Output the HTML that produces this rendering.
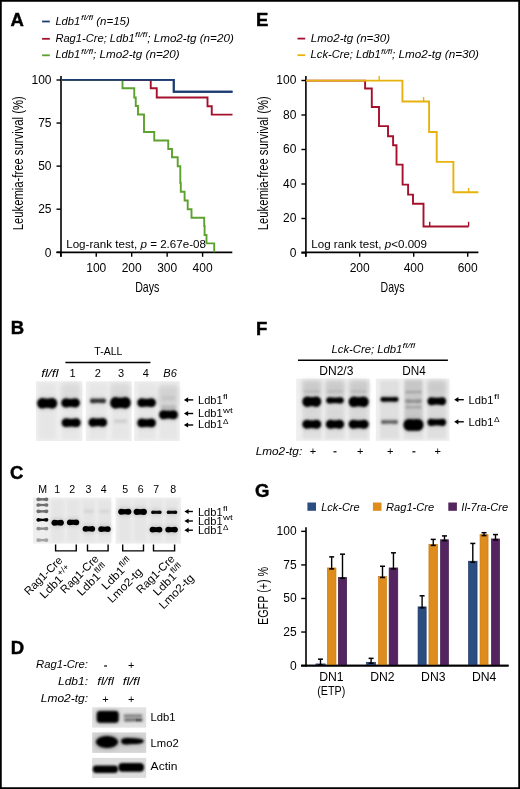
<!DOCTYPE html>
<html><head><meta charset="utf-8"><style>
html,body{margin:0;padding:0;background:#fff;}
body{width:520px;height:789px;overflow:hidden;}
svg{display:block;font-family:"Liberation Sans",sans-serif;will-change:transform;}
text{white-space:pre;}
</style></head><body>
<svg width="520" height="789" viewBox="0 0 520 789" xml:space="preserve">
<defs>
<filter id="b1" x="-60%" y="-120%" width="220%" height="340%"><feGaussianBlur stdDeviation="0.85"/></filter>
<filter id="b2" x="-60%" y="-120%" width="220%" height="340%"><feGaussianBlur stdDeviation="1.4"/></filter>
<filter id="b3" x="-60%" y="-120%" width="220%" height="340%"><feGaussianBlur stdDeviation="2.5"/></filter>
<filter id="b05" x="-60%" y="-120%" width="220%" height="340%"><feGaussianBlur stdDeviation="0.45"/></filter>
</defs>
<rect x="0" y="0" width="520" height="789" fill="#fff"/>
<text x="10.40" y="26.10" font-size="18.50" style="font-weight:bold;" stroke="#000" stroke-width="0.45">A</text>
<line x1="42.10" y1="21.50" x2="49.80" y2="21.50" stroke="#1c3b73" stroke-width="1.80"/>
<line x1="42.10" y1="38.80" x2="49.80" y2="38.80" stroke="#a5102c" stroke-width="1.80"/>
<line x1="42.10" y1="55.30" x2="49.80" y2="55.30" stroke="#5da12f" stroke-width="1.80"/>
<text x="55.40" y="24.50" font-size="11.50" textLength="24.90" lengthAdjust="spacingAndGlyphs" style="font-style:italic;">Ldb1</text>
<text x="81.00" y="20.20" font-size="7.60" textLength="12.20" lengthAdjust="spacingAndGlyphs" style="font-style:italic;">fl/fl</text>
<text x="93.00" y="24.50" font-size="11.50" textLength="36.80" lengthAdjust="spacingAndGlyphs" style="font-style:italic;"> (n=15)</text>
<text x="55.40" y="41.50" font-size="11.50" textLength="79.20" lengthAdjust="spacingAndGlyphs" style="font-style:italic;">Rag1-Cre; Ldb1</text>
<text x="135.10" y="37.20" font-size="7.60" textLength="12.30" lengthAdjust="spacingAndGlyphs" style="font-style:italic;">fl/fl</text>
<text x="147.20" y="41.50" font-size="11.50" textLength="86.60" lengthAdjust="spacingAndGlyphs" style="font-style:italic;">; Lmo2-tg (n=20)</text>
<text x="55.40" y="58.30" font-size="11.50" textLength="24.90" lengthAdjust="spacingAndGlyphs" style="font-style:italic;">Ldb1</text>
<text x="81.00" y="54.00" font-size="7.60" textLength="12.20" lengthAdjust="spacingAndGlyphs" style="font-style:italic;">fl/fl</text>
<text x="93.00" y="58.30" font-size="11.50" textLength="86.60" lengthAdjust="spacingAndGlyphs" style="font-style:italic;">; Lmo2-tg (n=20)</text>
<line x1="61.00" y1="76.00" x2="61.00" y2="256.80" stroke="#000" stroke-width="1.60"/>
<line x1="56.50" y1="252.40" x2="232.30" y2="252.40" stroke="#000" stroke-width="1.60"/>
<line x1="56.50" y1="80.00" x2="61.00" y2="80.00" stroke="#000" stroke-width="1.40"/>
<line x1="56.50" y1="123.06" x2="61.00" y2="123.06" stroke="#000" stroke-width="1.40"/>
<line x1="56.50" y1="166.12" x2="61.00" y2="166.12" stroke="#000" stroke-width="1.40"/>
<line x1="56.50" y1="209.19" x2="61.00" y2="209.19" stroke="#000" stroke-width="1.40"/>
<line x1="56.50" y1="252.25" x2="61.00" y2="252.25" stroke="#000" stroke-width="1.40"/>
<line x1="60.80" y1="252.40" x2="60.80" y2="256.80" stroke="#000" stroke-width="1.40"/>
<line x1="96.25" y1="252.40" x2="96.25" y2="256.80" stroke="#000" stroke-width="1.40"/>
<line x1="131.70" y1="252.40" x2="131.70" y2="256.80" stroke="#000" stroke-width="1.40"/>
<line x1="167.15" y1="252.40" x2="167.15" y2="256.80" stroke="#000" stroke-width="1.40"/>
<line x1="202.60" y1="252.40" x2="202.60" y2="256.80" stroke="#000" stroke-width="1.40"/>
<text x="51.50" y="84.30" font-size="12.00" text-anchor="end" style="">100</text>
<text x="51.50" y="127.36" font-size="12.00" text-anchor="end" style="">75</text>
<text x="51.50" y="170.43" font-size="12.00" text-anchor="end" style="">50</text>
<text x="51.50" y="213.49" font-size="12.00" text-anchor="end" style="">25</text>
<text x="51.50" y="256.55" font-size="12.00" text-anchor="end" style="">0</text>
<text x="96.25" y="272.10" font-size="12.00" text-anchor="middle" style="">100</text>
<text x="131.70" y="272.10" font-size="12.00" text-anchor="middle" style="">200</text>
<text x="167.15" y="272.10" font-size="12.00" text-anchor="middle" style="">300</text>
<text x="202.60" y="272.10" font-size="12.00" text-anchor="middle" style="">400</text>
<text x="135.20" y="291.90" font-size="14.40" textLength="24.20" lengthAdjust="spacingAndGlyphs" style="">Days</text>
<g transform="translate(23.2,230.3) rotate(-90)">
<text x="0.00" y="0.00" font-size="14.60" textLength="134.00" lengthAdjust="spacingAndGlyphs" style="">Leukemia-free survival (%)</text>
</g>
<text x="66.20" y="247.80" font-size="11.80" textLength="74.25" lengthAdjust="spacingAndGlyphs" style="">Log-rank test, </text>
<text x="140.45" y="247.80" font-size="11.80" textLength="6.46" lengthAdjust="spacingAndGlyphs" style="font-style:italic;">p</text>
<text x="146.91" y="247.80" font-size="11.80" textLength="59.09" lengthAdjust="spacingAndGlyphs" style=""> = 2.67e-08</text>
<path d="M61.00,79.90 H173.75 V91.75 H232.50 V91.75" stroke="#1c3b73" stroke-width="1.90" fill="none"/>
<path d="M61.00,79.90 H150.75 V88.20 H156.75 V97.50 H207.50 V106.20 H211.75 V114.60 H232.50 V114.60" stroke="#a5102c" stroke-width="1.90" fill="none"/>
<path d="M61.00,79.90 H122.50 V88.30 H134.25 V97.50 H135.75 V106.00 H138.00 V114.50 H144.00 V132.00 H154.25 V140.50 H168.25 V149.00 H172.00 V157.30 H177.70 V166.20 H180.30 V183.00 H180.80 V191.80 H184.60 V200.50 H187.70 V209.20 H191.50 V217.70 H204.20 V226.00 H204.60 V235.00 H206.50 V243.40 H214.20 V252.30" stroke="#5da12f" stroke-width="1.90" fill="none"/>
<path d="M61,79.9 H173.75 V91.75 H232.5" stroke="#1c3b73" stroke-width="1.90" fill="none"/>
<text x="255.90" y="26.10" font-size="18.50" style="font-weight:bold;" stroke="#000" stroke-width="0.45">E</text>
<line x1="297.50" y1="38.60" x2="305.20" y2="38.60" stroke="#a5102c" stroke-width="1.80"/>
<line x1="297.50" y1="55.20" x2="305.20" y2="55.20" stroke="#e8b20e" stroke-width="1.80"/>
<text x="310.75" y="41.50" font-size="11.50" textLength="79.25" lengthAdjust="spacingAndGlyphs" style="font-style:italic;">Lmo2-tg (n=30)</text>
<text x="310.60" y="58.30" font-size="11.50" textLength="70.20" lengthAdjust="spacingAndGlyphs" style="font-style:italic;">Lck-Cre; Ldb1</text>
<text x="381.00" y="54.00" font-size="7.60" textLength="11.20" lengthAdjust="spacingAndGlyphs" style="font-style:italic;">fl/fl</text>
<text x="392.00" y="58.30" font-size="11.50" textLength="87.00" lengthAdjust="spacingAndGlyphs" style="font-style:italic;">; Lmo2-tg (n=30)</text>
<line x1="305.90" y1="76.00" x2="305.90" y2="256.80" stroke="#000" stroke-width="1.60"/>
<line x1="301.40" y1="252.40" x2="478.40" y2="252.40" stroke="#000" stroke-width="1.60"/>
<line x1="301.40" y1="80.50" x2="305.90" y2="80.50" stroke="#000" stroke-width="1.40"/>
<line x1="301.40" y1="115.00" x2="305.90" y2="115.00" stroke="#000" stroke-width="1.40"/>
<line x1="301.40" y1="149.50" x2="305.90" y2="149.50" stroke="#000" stroke-width="1.40"/>
<line x1="301.40" y1="184.00" x2="305.90" y2="184.00" stroke="#000" stroke-width="1.40"/>
<line x1="301.40" y1="218.50" x2="305.90" y2="218.50" stroke="#000" stroke-width="1.40"/>
<line x1="301.40" y1="253.00" x2="305.90" y2="253.00" stroke="#000" stroke-width="1.40"/>
<line x1="305.70" y1="252.40" x2="305.70" y2="256.80" stroke="#000" stroke-width="1.40"/>
<line x1="359.70" y1="252.40" x2="359.70" y2="256.80" stroke="#000" stroke-width="1.40"/>
<line x1="413.70" y1="252.40" x2="413.70" y2="256.80" stroke="#000" stroke-width="1.40"/>
<line x1="467.70" y1="252.40" x2="467.70" y2="256.80" stroke="#000" stroke-width="1.40"/>
<text x="296.40" y="84.00" font-size="12.00" text-anchor="end" style="">100</text>
<text x="296.40" y="118.50" font-size="12.00" text-anchor="end" style="">80</text>
<text x="296.40" y="153.00" font-size="12.00" text-anchor="end" style="">60</text>
<text x="296.40" y="187.50" font-size="12.00" text-anchor="end" style="">40</text>
<text x="296.40" y="222.00" font-size="12.00" text-anchor="end" style="">20</text>
<text x="296.40" y="256.50" font-size="12.00" text-anchor="end" style="">0</text>
<text x="359.70" y="272.10" font-size="12.00" text-anchor="middle" style="">200</text>
<text x="413.70" y="272.10" font-size="12.00" text-anchor="middle" style="">400</text>
<text x="467.70" y="272.10" font-size="12.00" text-anchor="middle" style="">600</text>
<text x="380.60" y="291.90" font-size="14.40" textLength="24.00" lengthAdjust="spacingAndGlyphs" style="">Days</text>
<g transform="translate(268.4,230.3) rotate(-90)">
<text x="0.00" y="0.00" font-size="14.60" textLength="134.00" lengthAdjust="spacingAndGlyphs" style="">Leukemia-free survival (%)</text>
</g>
<text x="311.25" y="248.00" font-size="11.80" textLength="73.50" lengthAdjust="spacingAndGlyphs" style="">Log rank test, </text>
<text x="384.75" y="248.00" font-size="11.80" textLength="6.45" lengthAdjust="spacingAndGlyphs" style="font-style:italic;">p</text>
<text x="391.20" y="248.00" font-size="11.80" textLength="35.80" lengthAdjust="spacingAndGlyphs" style="">&lt;0.009</text>
<path d="M306.00,80.65 H365.10 V88.50 H371.80 V107.00 H379.00 V126.10 H388.00 V136.20 H393.10 V145.30 H396.50 V164.60 H402.60 V184.60 H408.10 V194.60 H413.00 V203.70 H423.50 V226.50 H468.60 V226.50" stroke="#a5102c" stroke-width="1.90" fill="none"/>
<line x1="429.70" y1="221.80" x2="429.70" y2="226.50" stroke="#a5102c" stroke-width="1.40"/>
<line x1="468.60" y1="221.80" x2="468.60" y2="226.50" stroke="#a5102c" stroke-width="1.40"/>
<path d="M306.00,80.65 H402.40 V101.50 H429.10 V132.00 H436.70 V161.90 H453.40 V192.20 H478.40 V192.20" stroke="#e8b20e" stroke-width="1.90" fill="none"/>
<line x1="379.20" y1="76.00" x2="379.20" y2="80.65" stroke="#e8b20e" stroke-width="1.40"/>
<line x1="423.60" y1="97.00" x2="423.60" y2="101.50" stroke="#e8b20e" stroke-width="1.40"/>
<line x1="468.60" y1="188.00" x2="468.60" y2="192.20" stroke="#e8b20e" stroke-width="1.40"/>
<rect x="0.88" y="0.88" width="518.24" height="787.24" fill="none" stroke="#000" stroke-width="1.76"/>
<text x="10.80" y="333.60" font-size="18.50" style="font-weight:bold;" stroke="#000" stroke-width="0.45">B</text>
<text x="94.30" y="355.40" font-size="11.20" textLength="28.10" lengthAdjust="spacingAndGlyphs" style="">T-ALL</text>
<line x1="65.40" y1="362.50" x2="150.40" y2="362.50" stroke="#000" stroke-width="1.40"/>
<text x="41.30" y="376.60" font-size="11.50" textLength="17.30" lengthAdjust="spacingAndGlyphs" style="font-style:italic;">fl/fl</text>
<text x="72.50" y="376.50" font-size="11.00" text-anchor="middle" style="">1</text>
<text x="97.70" y="376.50" font-size="11.00" text-anchor="middle" style="">2</text>
<text x="121.00" y="376.50" font-size="11.00" text-anchor="middle" style="">3</text>
<text x="145.80" y="376.50" font-size="11.00" text-anchor="middle" style="">4</text>
<text x="163.30" y="376.60" font-size="11.50" textLength="13.50" lengthAdjust="spacingAndGlyphs" style="font-style:italic;">B6</text>
<rect x="36.00" y="381.30" width="46.40" height="59.70" fill="#eeeeee"/>
<rect x="85.80" y="381.30" width="45.90" height="59.70" fill="#eeeeee"/>
<rect x="134.20" y="381.30" width="45.60" height="59.70" fill="#eeeeee"/>
<rect x="38.70" y="383.30" width="17.00" height="55.70" fill="#e6e6e6" opacity="1.00" filter="url(#b2)"/>
<rect x="62.30" y="383.30" width="17.00" height="55.70" fill="#e6e6e6" opacity="1.00" filter="url(#b2)"/>
<rect x="89.40" y="383.30" width="17.00" height="55.70" fill="#e6e6e6" opacity="1.00" filter="url(#b2)"/>
<rect x="112.00" y="383.30" width="17.00" height="55.70" fill="#e6e6e6" opacity="1.00" filter="url(#b2)"/>
<rect x="138.10" y="383.30" width="17.00" height="55.70" fill="#e6e6e6" opacity="1.00" filter="url(#b2)"/>
<rect x="160.00" y="383.30" width="17.00" height="55.70" fill="#e6e6e6" opacity="1.00" filter="url(#b2)"/>
<rect x="61.00" y="384.00" width="19.00" height="14.00" fill="#d8d8d8" opacity="0.80" filter="url(#b3)"/>
<rect x="110.00" y="384.00" width="20.00" height="14.00" fill="#d6d6d6" opacity="0.80" filter="url(#b3)"/>
<rect x="158.00" y="386.00" width="20.00" height="20.00" fill="#d0d0d0" opacity="0.90" filter="url(#b3)"/>
<path d="M42.50,398.00 Q47.20,399.59 51.90,398.00 C58.95,398.00 58.95,408.60 51.90,408.60 Q47.20,407.01 42.50,408.60 C35.45,408.60 35.45,398.00 42.50,398.00 Z" fill="#000" opacity="0.22" filter="url(#b3)"/>
<path d="M42.50,398.00 Q47.20,399.59 51.90,398.00 C58.95,398.00 58.95,408.60 51.90,408.60 Q47.20,407.01 42.50,408.60 C35.45,408.60 35.45,398.00 42.50,398.00 Z" fill="#000" opacity="1.00" filter="url(#b1)"/>
<path d="M65.90,398.30 Q70.60,399.68 75.30,398.30 C81.42,398.30 81.42,407.50 75.30,407.50 Q70.60,406.12 65.90,407.50 C59.78,407.50 59.78,398.30 65.90,398.30 Z" fill="#000" opacity="0.22" filter="url(#b3)"/>
<path d="M65.90,398.30 Q70.60,399.68 75.30,398.30 C81.42,398.30 81.42,407.50 75.30,407.50 Q70.60,406.12 65.90,407.50 C59.78,407.50 59.78,398.30 65.90,398.30 Z" fill="#000" opacity="1.00" filter="url(#b1)"/>
<path d="M66.10,418.30 Q71.20,419.62 76.30,418.30 C82.15,418.30 82.15,427.10 76.30,427.10 Q71.20,425.78 66.10,427.10 C60.25,427.10 60.25,418.30 66.10,418.30 Z" fill="#000" opacity="0.22" filter="url(#b3)"/>
<path d="M66.10,418.30 Q71.20,419.62 76.30,418.30 C82.15,418.30 82.15,427.10 76.30,427.10 Q71.20,425.78 66.10,427.10 C60.25,427.10 60.25,418.30 66.10,418.30 Z" fill="#000" opacity="1.00" filter="url(#b1)"/>
<path d="M92.40,398.40 Q98.00,399.12 103.60,398.40 C106.79,398.40 106.79,403.20 103.60,403.20 Q98.00,402.48 92.40,403.20 C89.21,403.20 89.21,398.40 92.40,398.40 Z" fill="#1a1a1a" opacity="0.19" filter="url(#b3)"/>
<path d="M92.40,398.40 Q98.00,399.12 103.60,398.40 C106.79,398.40 106.79,403.20 103.60,403.20 Q98.00,402.48 92.40,403.20 C89.21,403.20 89.21,398.40 92.40,398.40 Z" fill="#1a1a1a" opacity="0.88" filter="url(#b1)"/>
<path d="M92.90,417.90 Q97.80,419.22 102.70,417.90 C108.55,417.90 108.55,426.70 102.70,426.70 Q97.80,425.38 92.90,426.70 C87.05,426.70 87.05,417.90 92.90,417.90 Z" fill="#000" opacity="0.22" filter="url(#b3)"/>
<path d="M92.90,417.90 Q97.80,419.22 102.70,417.90 C108.55,417.90 108.55,426.70 102.70,426.70 Q97.80,425.38 92.90,426.70 C87.05,426.70 87.05,417.90 92.90,417.90 Z" fill="#000" opacity="1.00" filter="url(#b1)"/>
<path d="M116.05,396.90 Q120.50,398.64 124.95,396.90 C132.66,396.90 132.66,408.50 124.95,408.50 Q120.50,406.76 116.05,408.50 C108.34,408.50 108.34,396.90 116.05,396.90 Z" fill="#000" opacity="0.22" filter="url(#b3)"/>
<path d="M116.05,396.90 Q120.50,398.64 124.95,396.90 C132.66,396.90 132.66,408.50 124.95,408.50 Q120.50,406.76 116.05,408.50 C108.34,408.50 108.34,396.90 116.05,396.90 Z" fill="#000" opacity="1.00" filter="url(#b1)"/>
<path d="M115.50,419.70 Q120.50,420.15 125.50,419.70 C127.50,419.70 127.50,422.70 125.50,422.70 Q120.50,422.25 115.50,422.70 C113.50,422.70 113.50,419.70 115.50,419.70 Z" fill="#888" opacity="0.35" filter="url(#b2)"/>
<path d="M141.70,398.30 Q146.60,399.62 151.50,398.30 C157.35,398.30 157.35,407.10 151.50,407.10 Q146.60,405.78 141.70,407.10 C135.85,407.10 135.85,398.30 141.70,398.30 Z" fill="#000" opacity="0.22" filter="url(#b3)"/>
<path d="M141.70,398.30 Q146.60,399.62 151.50,398.30 C157.35,398.30 157.35,407.10 151.50,407.10 Q146.60,405.78 141.70,407.10 C135.85,407.10 135.85,398.30 141.70,398.30 Z" fill="#000" opacity="1.00" filter="url(#b1)"/>
<path d="M141.70,418.50 Q146.60,419.82 151.50,418.50 C157.35,418.50 157.35,427.30 151.50,427.30 Q146.60,425.98 141.70,427.30 C135.85,427.30 135.85,418.50 141.70,418.50 Z" fill="#000" opacity="0.22" filter="url(#b3)"/>
<path d="M141.70,418.50 Q146.60,419.82 151.50,418.50 C157.35,418.50 157.35,427.30 151.50,427.30 Q146.60,425.98 141.70,427.30 C135.85,427.30 135.85,418.50 141.70,418.50 Z" fill="#000" opacity="1.00" filter="url(#b1)"/>
<path d="M163.80,409.90 Q168.50,411.31 173.20,409.90 C179.45,409.90 179.45,419.30 173.20,419.30 Q168.50,417.89 163.80,419.30 C157.55,419.30 157.55,409.90 163.80,409.90 Z" fill="#000" opacity="0.22" filter="url(#b3)"/>
<path d="M163.80,409.90 Q168.50,411.31 173.20,409.90 C179.45,409.90 179.45,419.30 173.20,419.30 Q168.50,417.89 163.80,419.30 C157.55,419.30 157.55,409.90 163.80,409.90 Z" fill="#000" opacity="1.00" filter="url(#b1)"/>
<path d="M163.00,405.00 Q168.50,405.75 174.00,405.00 C177.32,405.00 177.32,410.00 174.00,410.00 Q168.50,409.25 163.00,410.00 C159.68,410.00 159.68,405.00 163.00,405.00 Z" fill="#888" opacity="0.45" filter="url(#b2)"/>
<path d="M163.50,396.00 Q168.50,396.60 173.50,396.00 C176.16,396.00 176.16,400.00 173.50,400.00 Q168.50,399.40 163.50,400.00 C160.84,400.00 160.84,396.00 163.50,396.00 Z" fill="#aaa" opacity="0.35" filter="url(#b2)"/>
<line x1="185.90" y1="399.90" x2="193.20" y2="399.90" stroke="#000" stroke-width="1.40"/>
<path d="M183.90,399.90 L188.10,397.30 L188.10,402.50 Z" fill="#000"/>
<line x1="185.90" y1="413.50" x2="193.20" y2="413.50" stroke="#000" stroke-width="1.40"/>
<path d="M183.90,413.50 L188.10,410.90 L188.10,416.10 Z" fill="#000"/>
<line x1="185.90" y1="425.00" x2="193.20" y2="425.00" stroke="#000" stroke-width="1.40"/>
<path d="M183.90,425.00 L188.10,422.40 L188.10,427.60 Z" fill="#000"/>
<text x="198.00" y="403.60" font-size="11.30" textLength="24.60" lengthAdjust="spacingAndGlyphs" style="">Ldb1</text>
<text x="222.90" y="399.10" font-size="6.80" textLength="4.70" lengthAdjust="spacingAndGlyphs" style="">fl</text>
<text x="198.00" y="417.20" font-size="11.30" textLength="24.60" lengthAdjust="spacingAndGlyphs" style="">Ldb1</text>
<text x="222.90" y="412.70" font-size="7.50" textLength="9.70" lengthAdjust="spacingAndGlyphs" style="">wt</text>
<text x="198.00" y="428.40" font-size="11.30" textLength="24.60" lengthAdjust="spacingAndGlyphs" style="">Ldb1</text>
<text x="222.90" y="424.40" font-size="7.00" textLength="5.40" lengthAdjust="spacingAndGlyphs" style="">Δ</text>
<text x="10.00" y="479.30" font-size="18.50" style="font-weight:bold;" stroke="#000" stroke-width="0.45">C</text>
<text x="42.60" y="493.10" font-size="10.60" text-anchor="middle" style="">M</text>
<text x="57.30" y="493.10" font-size="10.60" text-anchor="middle" style="">1</text>
<text x="72.10" y="493.10" font-size="10.60" text-anchor="middle" style="">2</text>
<text x="88.40" y="493.10" font-size="10.60" text-anchor="middle" style="">3</text>
<text x="103.80" y="493.10" font-size="10.60" text-anchor="middle" style="">4</text>
<text x="125.20" y="493.10" font-size="10.60" text-anchor="middle" style="">5</text>
<text x="140.70" y="493.10" font-size="10.60" text-anchor="middle" style="">6</text>
<text x="156.10" y="493.10" font-size="10.60" text-anchor="middle" style="">7</text>
<text x="173.30" y="493.10" font-size="10.60" text-anchor="middle" style="">8</text>
<rect x="33.10" y="497.60" width="78.10" height="46.00" fill="#eeeeee"/>
<rect x="115.60" y="497.60" width="65.50" height="46.00" fill="#eeeeee"/>
<rect x="51.20" y="499.60" width="13.00" height="42.00" fill="#e5e5e5" opacity="1.00" filter="url(#b2)"/>
<rect x="66.60" y="499.60" width="13.00" height="42.00" fill="#e5e5e5" opacity="1.00" filter="url(#b2)"/>
<rect x="82.40" y="499.60" width="13.00" height="42.00" fill="#e5e5e5" opacity="1.00" filter="url(#b2)"/>
<rect x="98.00" y="499.60" width="13.00" height="42.00" fill="#e5e5e5" opacity="1.00" filter="url(#b2)"/>
<rect x="118.30" y="499.60" width="13.00" height="42.00" fill="#e5e5e5" opacity="1.00" filter="url(#b2)"/>
<rect x="133.80" y="499.60" width="13.00" height="42.00" fill="#e5e5e5" opacity="1.00" filter="url(#b2)"/>
<rect x="149.50" y="499.60" width="13.00" height="42.00" fill="#e5e5e5" opacity="1.00" filter="url(#b2)"/>
<rect x="164.90" y="499.60" width="13.00" height="42.00" fill="#e5e5e5" opacity="1.00" filter="url(#b2)"/>
<path d="M38.25,497.45 Q42.40,498.93 46.55,497.45 C49.01,497.45 49.01,501.15 46.55,501.15 Q42.40,499.67 38.25,501.15 C35.79,501.15 35.79,497.45 38.25,497.45 Z" fill="#444" opacity="0.75" filter="url(#b05)"/>
<path d="M38.25,503.15 Q42.40,504.63 46.55,503.15 C49.01,503.15 49.01,506.85 46.55,506.85 Q42.40,505.37 38.25,506.85 C35.79,506.85 35.79,503.15 38.25,503.15 Z" fill="#444" opacity="0.75" filter="url(#b05)"/>
<path d="M38.25,509.45 Q42.40,510.93 46.55,509.45 C49.01,509.45 49.01,513.15 46.55,513.15 Q42.40,511.67 38.25,513.15 C35.79,513.15 35.79,509.45 38.25,509.45 Z" fill="#444" opacity="0.75" filter="url(#b05)"/>
<path d="M38.25,517.95 Q42.40,519.43 46.55,517.95 C49.01,517.95 49.01,521.65 46.55,521.65 Q42.40,520.17 38.25,521.65 C35.79,521.65 35.79,517.95 38.25,517.95 Z" fill="#000" opacity="1.00" filter="url(#b05)"/>
<path d="M38.25,526.75 Q42.40,528.23 46.55,526.75 C49.01,526.75 49.01,530.45 46.55,530.45 Q42.40,528.97 38.25,530.45 C35.79,530.45 35.79,526.75 38.25,526.75 Z" fill="#555" opacity="0.62" filter="url(#b05)"/>
<path d="M38.25,538.35 Q42.40,539.83 46.55,538.35 C49.01,538.35 49.01,542.05 46.55,542.05 Q42.40,540.57 38.25,542.05 C35.79,542.05 35.79,538.35 38.25,538.35 Z" fill="#666" opacity="0.55" filter="url(#b05)"/>
<path d="M54.40,519.80 Q57.70,520.70 61.00,519.80 C64.99,519.80 64.99,525.80 61.00,525.80 Q57.70,524.90 54.40,525.80 C50.41,525.80 50.41,519.80 54.40,519.80 Z" fill="#000" opacity="0.22" filter="url(#b3)"/>
<path d="M54.40,519.80 Q57.70,520.70 61.00,519.80 C64.99,519.80 64.99,525.80 61.00,525.80 Q57.70,524.90 54.40,525.80 C50.41,525.80 50.41,519.80 54.40,519.80 Z" fill="#000" opacity="1.00" filter="url(#b05)"/>
<path d="M69.80,519.40 Q73.10,520.27 76.40,519.40 C80.26,519.40 80.26,525.20 76.40,525.20 Q73.10,524.33 69.80,525.20 C65.94,525.20 65.94,519.40 69.80,519.40 Z" fill="#000" opacity="0.22" filter="url(#b3)"/>
<path d="M69.80,519.40 Q73.10,520.27 76.40,519.40 C80.26,519.40 80.26,525.20 76.40,525.20 Q73.10,524.33 69.80,525.20 C65.94,525.20 65.94,519.40 69.80,519.40 Z" fill="#000" opacity="1.00" filter="url(#b05)"/>
<path d="M85.50,526.00 Q88.90,526.87 92.30,526.00 C96.16,526.00 96.16,531.80 92.30,531.80 Q88.90,530.93 85.50,531.80 C81.64,531.80 81.64,526.00 85.50,526.00 Z" fill="#000" opacity="0.22" filter="url(#b3)"/>
<path d="M85.50,526.00 Q88.90,526.87 92.30,526.00 C96.16,526.00 96.16,531.80 92.30,531.80 Q88.90,530.93 85.50,531.80 C81.64,531.80 81.64,526.00 85.50,526.00 Z" fill="#000" opacity="1.00" filter="url(#b05)"/>
<path d="M85.15,510.05 Q88.90,510.43 92.65,510.05 C94.31,510.05 94.31,512.55 92.65,512.55 Q88.90,512.17 85.15,512.55 C83.49,512.55 83.49,510.05 85.15,510.05 Z" fill="#999" opacity="0.35" filter="url(#b2)"/>
<path d="M101.10,526.20 Q104.50,527.07 107.90,526.20 C111.76,526.20 111.76,532.00 107.90,532.00 Q104.50,531.13 101.10,532.00 C97.24,532.00 97.24,526.20 101.10,526.20 Z" fill="#000" opacity="0.22" filter="url(#b3)"/>
<path d="M101.10,526.20 Q104.50,527.07 107.90,526.20 C111.76,526.20 111.76,532.00 107.90,532.00 Q104.50,531.13 101.10,532.00 C97.24,532.00 97.24,526.20 101.10,526.20 Z" fill="#000" opacity="1.00" filter="url(#b05)"/>
<path d="M100.75,510.05 Q104.50,510.43 108.25,510.05 C109.91,510.05 109.91,512.55 108.25,512.55 Q104.50,512.17 100.75,512.55 C99.09,512.55 99.09,510.05 100.75,510.05 Z" fill="#999" opacity="0.30" filter="url(#b2)"/>
<path d="M121.10,508.80 Q124.80,509.70 128.50,508.80 C132.49,508.80 132.49,514.80 128.50,514.80 Q124.80,513.90 121.10,514.80 C117.11,514.80 117.11,508.80 121.10,508.80 Z" fill="#000" opacity="0.22" filter="url(#b3)"/>
<path d="M121.10,508.80 Q124.80,509.70 128.50,508.80 C132.49,508.80 132.49,514.80 128.50,514.80 Q124.80,513.90 121.10,514.80 C117.11,514.80 117.11,508.80 121.10,508.80 Z" fill="#000" opacity="1.00" filter="url(#b05)"/>
<path d="M136.70,508.70 Q140.30,509.63 143.90,508.70 C148.02,508.70 148.02,514.90 143.90,514.90 Q140.30,513.97 136.70,514.90 C132.58,514.90 132.58,508.70 136.70,508.70 Z" fill="#000" opacity="0.22" filter="url(#b3)"/>
<path d="M136.70,508.70 Q140.30,509.63 143.90,508.70 C148.02,508.70 148.02,514.90 143.90,514.90 Q140.30,513.97 136.70,514.90 C132.58,514.90 132.58,508.70 136.70,508.70 Z" fill="#000" opacity="1.00" filter="url(#b05)"/>
<path d="M152.90,510.50 Q156.40,511.04 159.90,510.50 C162.29,510.50 162.29,514.10 159.90,514.10 Q156.40,513.56 152.90,514.10 C150.51,514.10 150.51,510.50 152.90,510.50 Z" fill="#000" opacity="0.21" filter="url(#b3)"/>
<path d="M152.90,510.50 Q156.40,511.04 159.90,510.50 C162.29,510.50 162.29,514.10 159.90,514.10 Q156.40,513.56 152.90,514.10 C150.51,514.10 150.51,510.50 152.90,510.50 Z" fill="#000" opacity="0.95" filter="url(#b05)"/>
<path d="M152.50,526.70 Q156.00,527.57 159.50,526.70 C163.36,526.70 163.36,532.50 159.50,532.50 Q156.00,531.63 152.50,532.50 C148.64,532.50 148.64,526.70 152.50,526.70 Z" fill="#000" opacity="0.22" filter="url(#b3)"/>
<path d="M152.50,526.70 Q156.00,527.57 159.50,526.70 C163.36,526.70 163.36,532.50 159.50,532.50 Q156.00,531.63 152.50,532.50 C148.64,532.50 148.64,526.70 152.50,526.70 Z" fill="#000" opacity="1.00" filter="url(#b05)"/>
<path d="M168.50,510.50 Q172.00,511.04 175.50,510.50 C177.89,510.50 177.89,514.10 175.50,514.10 Q172.00,513.56 168.50,514.10 C166.11,514.10 166.11,510.50 168.50,510.50 Z" fill="#000" opacity="0.21" filter="url(#b3)"/>
<path d="M168.50,510.50 Q172.00,511.04 175.50,510.50 C177.89,510.50 177.89,514.10 175.50,514.10 Q172.00,513.56 168.50,514.10 C166.11,514.10 166.11,510.50 168.50,510.50 Z" fill="#000" opacity="0.95" filter="url(#b05)"/>
<path d="M168.20,526.70 Q171.60,527.57 175.00,526.70 C178.86,526.70 178.86,532.50 175.00,532.50 Q171.60,531.63 168.20,532.50 C164.34,532.50 164.34,526.70 168.20,526.70 Z" fill="#000" opacity="0.22" filter="url(#b3)"/>
<path d="M168.20,526.70 Q171.60,527.57 175.00,526.70 C178.86,526.70 178.86,532.50 175.00,532.50 Q171.60,531.63 168.20,532.50 C164.34,532.50 164.34,526.70 168.20,526.70 Z" fill="#000" opacity="1.00" filter="url(#b05)"/>
<path d="M55.60,544.6 V550.9 H76.25 V544.6" stroke="#000" stroke-width="1.40" fill="none"/>
<path d="M87.50,544.6 V550.9 H108.10 V544.6" stroke="#000" stroke-width="1.40" fill="none"/>
<path d="M122.70,544.6 V550.9 H143.50 V544.6" stroke="#000" stroke-width="1.40" fill="none"/>
<path d="M153.50,544.6 V550.9 H174.60 V544.6" stroke="#000" stroke-width="1.40" fill="none"/>
<line x1="186.40" y1="511.50" x2="192.90" y2="511.50" stroke="#000" stroke-width="1.40"/>
<path d="M184.40,511.50 L188.60,508.90 L188.60,514.10 Z" fill="#000"/>
<line x1="186.40" y1="521.00" x2="192.90" y2="521.00" stroke="#000" stroke-width="1.40"/>
<path d="M184.40,521.00 L188.60,518.40 L188.60,523.60 Z" fill="#000"/>
<line x1="186.40" y1="530.20" x2="192.90" y2="530.20" stroke="#000" stroke-width="1.40"/>
<path d="M184.40,530.20 L188.60,527.60 L188.60,532.80 Z" fill="#000"/>
<text x="197.90" y="515.60" font-size="11.30" textLength="24.70" lengthAdjust="spacingAndGlyphs" style="">Ldb1</text>
<text x="222.90" y="511.00" font-size="6.80" textLength="4.50" lengthAdjust="spacingAndGlyphs" style="">fl</text>
<text x="197.90" y="524.80" font-size="11.30" textLength="24.70" lengthAdjust="spacingAndGlyphs" style="">Ldb1</text>
<text x="222.90" y="520.00" font-size="7.50" textLength="9.70" lengthAdjust="spacingAndGlyphs" style="">wt</text>
<text x="197.90" y="534.00" font-size="11.30" textLength="24.70" lengthAdjust="spacingAndGlyphs" style="">Ldb1</text>
<text x="222.90" y="530.00" font-size="7.00" textLength="5.40" lengthAdjust="spacingAndGlyphs" style="">Δ</text>
<g transform="translate(63.30,561.10) rotate(-45)">
<text x="-48.99" y="0.00" font-size="11.30" style="">Rag1-Cre</text>
<text x="-40.32" y="13.50" font-size="11.30" textLength="27.40" lengthAdjust="spacingAndGlyphs" style="">Ldb1</text>
<text x="-12.92" y="8.70" font-size="8.20" textLength="12.92" lengthAdjust="spacingAndGlyphs" style="">+/+</text>
</g>
<g transform="translate(99.50,559.50) rotate(-45)">
<text x="-48.99" y="0.00" font-size="11.30" style="">Rag1-Cre</text>
<text x="-38.82" y="13.50" font-size="11.30" textLength="27.40" lengthAdjust="spacingAndGlyphs" style="">Ldb1</text>
<text x="-11.42" y="8.70" font-size="8.20" textLength="11.42" lengthAdjust="spacingAndGlyphs" style="">fl/fl</text>
</g>
<g transform="translate(133.50,563.00) rotate(-45)">
<text x="-38.82" y="0.00" font-size="11.30" textLength="27.40" lengthAdjust="spacingAndGlyphs" style="">Ldb1</text>
<text x="-11.42" y="-4.80" font-size="8.20" textLength="11.42" lengthAdjust="spacingAndGlyphs" style="">fl/fl</text>
<text x="-43.94" y="13.50" font-size="11.30" textLength="43.94" lengthAdjust="spacingAndGlyphs" style="">Lmo2-tg</text>
</g>
<g transform="translate(175.50,559.60) rotate(-45)">
<text x="-48.99" y="0.00" font-size="11.30" style="">Rag1-Cre</text>
<text x="-38.82" y="13.50" font-size="11.30" textLength="27.40" lengthAdjust="spacingAndGlyphs" style="">Ldb1</text>
<text x="-11.42" y="8.70" font-size="8.20" textLength="11.42" lengthAdjust="spacingAndGlyphs" style="">fl/fl</text>
<text x="-43.94" y="27.00" font-size="11.30" textLength="43.94" lengthAdjust="spacingAndGlyphs" style="">Lmo2-tg</text>
</g>
<text x="10.80" y="654.20" font-size="18.50" style="font-weight:bold;" stroke="#000" stroke-width="0.45">D</text>
<text x="36.00" y="668.30" font-size="11.20" textLength="52.00" lengthAdjust="spacingAndGlyphs" style="font-style:italic;">Rag1-Cre:</text>
<text x="58.00" y="684.90" font-size="11.20" textLength="30.00" lengthAdjust="spacingAndGlyphs" style="font-style:italic;">Ldb1:</text>
<text x="40.80" y="701.50" font-size="11.20" textLength="47.20" lengthAdjust="spacingAndGlyphs" style="font-style:italic;">Lmo2-tg:</text>
<line x1="104.10" y1="666.00" x2="107.00" y2="666.00" stroke="#000" stroke-width="1.20"/>
<text x="131.30" y="669.20" font-size="11.00" text-anchor="middle" style="">+</text>
<text x="97.30" y="684.90" font-size="11.20" textLength="16.60" lengthAdjust="spacingAndGlyphs" style="font-style:italic;">fl/fl</text>
<text x="122.70" y="684.90" font-size="11.20" textLength="17.10" lengthAdjust="spacingAndGlyphs" style="font-style:italic;">fl/fl</text>
<text x="105.50" y="703.30" font-size="11.00" text-anchor="middle" style="">+</text>
<text x="131.30" y="703.30" font-size="11.00" text-anchor="middle" style="">+</text>
<rect x="92.20" y="707.30" width="54.00" height="20.30" fill="#e2e2e2"/>
<rect x="92.20" y="732.40" width="54.00" height="20.50" fill="#d6d6d6"/>
<rect x="92.20" y="757.90" width="54.00" height="20.00" fill="#dddddd"/>
<rect x="95.00" y="735.00" width="48.00" height="15.00" fill="#cdcdcd" opacity="0.60" filter="url(#b2)"/>
<rect x="96.2" y="710.4" width="23" height="12.8" rx="3.6" fill="#000" opacity="0.25" filter="url(#b3)"/>
<rect x="96.8" y="711.1" width="21.8" height="11.6" rx="3.2" fill="#000" filter="url(#b1)"/>
<path d="M125.20,714.40 Q133.00,714.70 140.80,714.40 C142.80,714.40 142.80,717.40 140.80,717.40 Q133.00,717.10 125.20,717.40 C123.20,717.40 123.20,714.40 125.20,714.40 Z" fill="#333" opacity="0.72" filter="url(#b1)"/>
<path d="M125.80,718.20 Q133.50,718.52 141.20,718.20 C143.33,718.20 143.33,721.40 141.20,721.40 Q133.50,721.08 125.80,721.40 C123.67,721.40 123.67,718.20 125.80,718.20 Z" fill="#222" opacity="0.80" filter="url(#b1)"/>
<path d="M136.90,718.60 Q138.50,718.88 140.10,718.60 C141.96,718.60 141.96,721.40 140.10,721.40 Q138.50,721.12 136.90,721.40 C135.04,721.40 135.04,718.60 136.90,718.60 Z" fill="#111" opacity="0.55" filter="url(#b05)"/>
<rect x="123.00" y="713.00" width="21.00" height="10.00" fill="#bbb" opacity="0.35" filter="url(#b2)"/>
<ellipse cx="107" cy="742" rx="12" ry="7" fill="#000" opacity="0.25" filter="url(#b3)"/>
<ellipse cx="107" cy="741.9" rx="11.1" ry="6.0" fill="#000" filter="url(#b1)"/>
<path d="M121.2,741.3 C121.2,737.6 125,737.9 132,738.3 C138,738.6 143.8,738.8 143.8,741.2 C143.8,743.4 138,743.8 132,744.1 C125,744.6 121.2,745 121.2,741.3 Z" fill="#000" filter="url(#b1)"/>
<path d="M121.2,741.3 C121.2,737.6 125,737.9 132,738.3 C138,738.6 143.8,738.8 143.8,741.2 C143.8,743.4 138,743.8 132,744.1 C125,744.6 121.2,745 121.2,741.3 Z" fill="#000" opacity="0.3" filter="url(#b3)"/>
<rect x="92.8" y="765.6" width="25.2" height="7.4" rx="3.4" fill="#000" filter="url(#b1)"/>
<rect x="118.4" y="763.1" width="25.6" height="8.7" rx="4" fill="#000" filter="url(#b1)"/>
<text x="150.60" y="721.30" font-size="11.80" textLength="25.00" lengthAdjust="spacingAndGlyphs" style="">Ldb1</text>
<text x="150.60" y="747.10" font-size="11.80" textLength="28.20" lengthAdjust="spacingAndGlyphs" style="">Lmo2</text>
<text x="150.60" y="770.40" font-size="11.80" textLength="26.80" lengthAdjust="spacingAndGlyphs" style="">Actin</text>
<text x="256.00" y="334.80" font-size="18.50" style="font-weight:bold;" stroke="#000" stroke-width="0.45">F</text>
<text x="331.50" y="353.00" font-size="11.20" textLength="70.90" lengthAdjust="spacingAndGlyphs" style="font-style:italic;">Lck-Cre; Ldb1</text>
<text x="402.60" y="348.30" font-size="7.40" textLength="12.60" lengthAdjust="spacingAndGlyphs" style="font-style:italic;">fl/fl</text>
<line x1="298.00" y1="360.20" x2="447.90" y2="360.20" stroke="#000" stroke-width="1.40"/>
<text x="319.30" y="374.70" font-size="12.00" textLength="34.10" lengthAdjust="spacingAndGlyphs" style="">DN2/3</text>
<text x="402.30" y="374.70" font-size="12.00" textLength="23.50" lengthAdjust="spacingAndGlyphs" style="">DN4</text>
<rect x="296.20" y="378.70" width="73.60" height="62.10" fill="#eeeeee"/>
<rect x="375.80" y="378.70" width="73.60" height="62.10" fill="#eeeeee"/>
<rect x="302.30" y="380.70" width="19.00" height="58.10" fill="#dfdfdf" opacity="1.00" filter="url(#b2)"/>
<rect x="325.50" y="380.70" width="19.00" height="58.10" fill="#dfdfdf" opacity="1.00" filter="url(#b2)"/>
<rect x="349.20" y="380.70" width="19.00" height="58.10" fill="#dfdfdf" opacity="1.00" filter="url(#b2)"/>
<rect x="380.00" y="380.70" width="19.00" height="58.10" fill="#dfdfdf" opacity="1.00" filter="url(#b2)"/>
<rect x="404.10" y="380.70" width="19.00" height="58.10" fill="#dfdfdf" opacity="1.00" filter="url(#b2)"/>
<rect x="427.30" y="380.70" width="19.00" height="58.10" fill="#dfdfdf" opacity="1.00" filter="url(#b2)"/>
<rect x="404.80" y="380.00" width="17.50" height="40.00" fill="#c6c6c6" opacity="0.95" filter="url(#b2)"/>
<rect x="302.80" y="381.00" width="18.00" height="14.00" fill="#c9c9c9" opacity="0.95" filter="url(#b3)"/>
<rect x="303.80" y="408.00" width="16.00" height="9.00" fill="#d6d6d6" opacity="0.80" filter="url(#b3)"/>
<rect x="326.00" y="381.00" width="18.00" height="14.00" fill="#c9c9c9" opacity="0.95" filter="url(#b3)"/>
<rect x="327.00" y="408.00" width="16.00" height="9.00" fill="#d6d6d6" opacity="0.80" filter="url(#b3)"/>
<rect x="349.70" y="381.00" width="18.00" height="14.00" fill="#c9c9c9" opacity="0.95" filter="url(#b3)"/>
<rect x="350.70" y="408.00" width="16.00" height="9.00" fill="#d6d6d6" opacity="0.80" filter="url(#b3)"/>
<rect x="427.80" y="381.00" width="18.00" height="14.00" fill="#c9c9c9" opacity="0.95" filter="url(#b3)"/>
<rect x="428.80" y="408.00" width="16.00" height="9.00" fill="#d6d6d6" opacity="0.80" filter="url(#b3)"/>
<path d="M305.10,390.20 Q311.80,390.72 318.50,390.20 C320.23,390.20 320.23,392.80 318.50,392.80 Q311.80,392.28 305.10,392.80 C303.37,392.80 303.37,390.20 305.10,390.20 Z" fill="#888" opacity="0.30" filter="url(#b1)"/>
<path d="M328.30,390.20 Q335.00,390.72 341.70,390.20 C343.43,390.20 343.43,392.80 341.70,392.80 Q335.00,392.28 328.30,392.80 C326.57,392.80 326.57,390.20 328.30,390.20 Z" fill="#888" opacity="0.30" filter="url(#b1)"/>
<path d="M352.00,390.20 Q358.70,390.72 365.40,390.20 C367.13,390.20 367.13,392.80 365.40,392.80 Q358.70,392.28 352.00,392.80 C350.27,392.80 350.27,390.20 352.00,390.20 Z" fill="#888" opacity="0.30" filter="url(#b1)"/>
<path d="M307.60,396.50 Q311.80,398.06 316.00,396.50 C322.92,396.50 322.92,406.90 316.00,406.90 Q311.80,405.34 307.60,406.90 C300.68,406.90 300.68,396.50 307.60,396.50 Z" fill="#000" opacity="0.22" filter="url(#b3)"/>
<path d="M307.60,396.50 Q311.80,398.06 316.00,396.50 C322.92,396.50 322.92,406.90 316.00,406.90 Q311.80,405.34 307.60,406.90 C300.68,406.90 300.68,396.50 307.60,396.50 Z" fill="#000" opacity="1.00" filter="url(#b1)"/>
<path d="M306.90,419.70 Q311.80,421.05 316.70,419.70 C322.69,419.70 322.69,428.70 316.70,428.70 Q311.80,427.35 306.90,428.70 C300.92,428.70 300.92,419.70 306.90,419.70 Z" fill="#000" opacity="0.22" filter="url(#b3)"/>
<path d="M306.90,419.70 Q311.80,421.05 316.70,419.70 C322.69,419.70 322.69,428.70 316.70,428.70 Q311.80,427.35 306.90,428.70 C300.92,428.70 300.92,419.70 306.90,419.70 Z" fill="#000" opacity="1.00" filter="url(#b1)"/>
<path d="M329.30,397.30 Q335.00,398.23 340.70,397.30 C344.82,397.30 344.82,403.50 340.70,403.50 Q335.00,402.57 329.30,403.50 C325.18,403.50 325.18,397.30 329.30,397.30 Z" fill="#000" opacity="0.22" filter="url(#b3)"/>
<path d="M329.30,397.30 Q335.00,398.23 340.70,397.30 C344.82,397.30 344.82,403.50 340.70,403.50 Q335.00,402.57 329.30,403.50 C325.18,403.50 325.18,397.30 329.30,397.30 Z" fill="#000" opacity="1.00" filter="url(#b1)"/>
<path d="M330.40,419.70 Q335.00,421.05 339.60,419.70 C345.59,419.70 345.59,428.70 339.60,428.70 Q335.00,427.35 330.40,428.70 C324.41,428.70 324.41,419.70 330.40,419.70 Z" fill="#000" opacity="0.22" filter="url(#b3)"/>
<path d="M330.40,419.70 Q335.00,421.05 339.60,419.70 C345.59,419.70 345.59,428.70 339.60,428.70 Q335.00,427.35 330.40,428.70 C324.41,428.70 324.41,419.70 330.40,419.70 Z" fill="#000" opacity="1.00" filter="url(#b1)"/>
<path d="M354.00,396.40 Q358.70,397.99 363.40,396.40 C370.45,396.40 370.45,407.00 363.40,407.00 Q358.70,405.41 354.00,407.00 C346.95,407.00 346.95,396.40 354.00,396.40 Z" fill="#000" opacity="0.22" filter="url(#b3)"/>
<path d="M354.00,396.40 Q358.70,397.99 363.40,396.40 C370.45,396.40 370.45,407.00 363.40,407.00 Q358.70,405.41 354.00,407.00 C346.95,407.00 346.95,396.40 354.00,396.40 Z" fill="#000" opacity="1.00" filter="url(#b1)"/>
<path d="M353.20,419.70 Q358.70,421.05 364.20,419.70 C370.19,419.70 370.19,428.70 364.20,428.70 Q358.70,427.35 353.20,428.70 C347.21,428.70 347.21,419.70 353.20,419.70 Z" fill="#000" opacity="0.22" filter="url(#b3)"/>
<path d="M353.20,419.70 Q358.70,421.05 364.20,419.70 C370.19,419.70 370.19,428.70 364.20,428.70 Q358.70,427.35 353.20,428.70 C347.21,428.70 347.21,419.70 353.20,419.70 Z" fill="#000" opacity="1.00" filter="url(#b1)"/>
<path d="M382.90,397.00 Q389.50,397.72 396.10,397.00 C399.29,397.00 399.29,401.80 396.10,401.80 Q389.50,401.08 382.90,401.80 C379.71,401.80 379.71,397.00 382.90,397.00 Z" fill="#000" opacity="0.22" filter="url(#b3)"/>
<path d="M382.90,397.00 Q389.50,397.72 396.10,397.00 C399.29,397.00 399.29,401.80 396.10,401.80 Q389.50,401.08 382.90,401.80 C379.71,401.80 379.71,397.00 382.90,397.00 Z" fill="#000" opacity="1.00" filter="url(#b1)"/>
<path d="M383.00,419.90 Q389.50,420.50 396.00,419.90 C398.66,419.90 398.66,423.90 396.00,423.90 Q389.50,423.30 383.00,423.90 C380.34,423.90 380.34,419.90 383.00,419.90 Z" fill="#333" opacity="0.15" filter="url(#b3)"/>
<path d="M383.00,419.90 Q389.50,420.50 396.00,419.90 C398.66,419.90 398.66,423.90 396.00,423.90 Q389.50,423.30 383.00,423.90 C380.34,423.90 380.34,419.90 383.00,419.90 Z" fill="#333" opacity="0.70" filter="url(#b1)"/>
<path d="M406.70,390.70 Q413.40,391.48 420.10,390.70 C421.83,390.70 421.83,393.30 420.10,393.30 Q413.40,392.52 406.70,393.30 C404.97,393.30 404.97,390.70 406.70,390.70 Z" fill="#777" opacity="0.45" filter="url(#b1)"/>
<path d="M407.25,399.10 Q413.40,400.36 419.55,399.10 C422.34,399.10 422.34,403.30 419.55,403.30 Q413.40,402.04 407.25,403.30 C404.46,403.30 404.46,399.10 407.25,399.10 Z" fill="#666" opacity="0.55" filter="url(#b1)"/>
<path d="M406.80,405.80 Q413.40,406.64 420.00,405.80 C421.86,405.80 421.86,408.60 420.00,408.60 Q413.40,407.76 406.80,408.60 C404.94,408.60 404.94,405.80 406.80,405.80 Z" fill="#777" opacity="0.45" filter="url(#b1)"/>
<path d="M409.40,419.00 Q413.50,419.35 417.60,419.00 C425.45,419.00 425.45,430.80 417.60,430.80 Q413.50,430.45 409.40,430.80 C401.55,430.80 401.55,419.00 409.40,419.00 Z" fill="#000" opacity="0.22" filter="url(#b3)"/>
<path d="M409.40,419.00 Q413.50,419.35 417.60,419.00 C425.45,419.00 425.45,430.80 417.60,430.80 Q413.50,430.45 409.40,430.80 C401.55,430.80 401.55,419.00 409.40,419.00 Z" fill="#000" opacity="1.00" filter="url(#b1)"/>
<path d="M431.50,397.20 Q436.80,398.40 442.10,397.20 C447.42,397.20 447.42,405.20 442.10,405.20 Q436.80,404.00 431.50,405.20 C426.18,405.20 426.18,397.20 431.50,397.20 Z" fill="#000" opacity="0.22" filter="url(#b3)"/>
<path d="M431.50,397.20 Q436.80,398.40 442.10,397.20 C447.42,397.20 447.42,405.20 442.10,405.20 Q436.80,404.00 431.50,405.20 C426.18,405.20 426.18,397.20 431.50,397.20 Z" fill="#000" opacity="1.00" filter="url(#b1)"/>
<path d="M431.10,418.70 Q436.80,419.78 442.50,418.70 C447.29,418.70 447.29,425.90 442.50,425.90 Q436.80,424.82 431.10,425.90 C426.31,425.90 426.31,418.70 431.10,418.70 Z" fill="#000" opacity="0.22" filter="url(#b3)"/>
<path d="M431.10,418.70 Q436.80,419.78 442.50,418.70 C447.29,418.70 447.29,425.90 442.50,425.90 Q436.80,424.82 431.10,425.90 C426.31,425.90 426.31,418.70 431.10,418.70 Z" fill="#000" opacity="1.00" filter="url(#b1)"/>
<line x1="456.20" y1="399.70" x2="463.80" y2="399.70" stroke="#000" stroke-width="1.40"/>
<path d="M454.20,399.70 L458.40,397.10 L458.40,402.30 Z" fill="#000"/>
<line x1="456.20" y1="421.80" x2="463.80" y2="421.80" stroke="#000" stroke-width="1.40"/>
<path d="M454.20,421.80 L458.40,419.20 L458.40,424.40 Z" fill="#000"/>
<text x="468.60" y="403.80" font-size="11.30" textLength="24.80" lengthAdjust="spacingAndGlyphs" style="">Ldb1</text>
<text x="494.00" y="399.30" font-size="6.80" textLength="5.20" lengthAdjust="spacingAndGlyphs" style="">fl</text>
<text x="468.60" y="425.80" font-size="11.30" textLength="24.80" lengthAdjust="spacingAndGlyphs" style="">Ldb1</text>
<text x="494.00" y="421.80" font-size="7.00" textLength="5.60" lengthAdjust="spacingAndGlyphs" style="">Δ</text>
<text x="255.70" y="455.20" font-size="11.20" textLength="46.50" lengthAdjust="spacingAndGlyphs" style="font-style:italic;">Lmo2-tg:</text>
<text x="312.90" y="455.40" font-size="11.00" text-anchor="middle" style="">+</text>
<line x1="333.50" y1="451.80" x2="336.50" y2="451.80" stroke="#000" stroke-width="1.20"/>
<text x="360.10" y="455.40" font-size="11.00" text-anchor="middle" style="">+</text>
<text x="390.10" y="455.40" font-size="11.00" text-anchor="middle" style="">+</text>
<line x1="412.40" y1="451.80" x2="415.40" y2="451.80" stroke="#000" stroke-width="1.20"/>
<text x="437.70" y="455.40" font-size="11.00" text-anchor="middle" style="">+</text>
<text x="255.00" y="496.80" font-size="18.50" style="font-weight:bold;" stroke="#000" stroke-width="0.45">G</text>
<rect x="307.40" y="502.50" width="8.60" height="8.30" fill="#2c4d80"/>
<rect x="372.90" y="502.50" width="8.60" height="8.30" fill="#de8c1c"/>
<rect x="448.30" y="502.50" width="8.60" height="8.30" fill="#53245f"/>
<text x="321.20" y="510.60" font-size="11.50" textLength="38.40" lengthAdjust="spacingAndGlyphs" style="font-style:italic;">Lck-Cre</text>
<text x="386.00" y="510.60" font-size="11.50" textLength="48.20" lengthAdjust="spacingAndGlyphs" style="font-style:italic;">Rag1-Cre</text>
<text x="461.30" y="510.60" font-size="11.50" textLength="46.90" lengthAdjust="spacingAndGlyphs" style="font-style:italic;">Il-7ra-Cre</text>
<line x1="306.00" y1="527.20" x2="306.00" y2="666.40" stroke="#000" stroke-width="1.60"/>
<line x1="301.20" y1="665.60" x2="508.60" y2="665.60" stroke="#000" stroke-width="1.60"/>
<line x1="301.20" y1="531.35" x2="306.00" y2="531.35" stroke="#000" stroke-width="1.40"/>
<text x="296.60" y="535.35" font-size="12.00" text-anchor="end" style="">100</text>
<line x1="301.20" y1="564.91" x2="306.00" y2="564.91" stroke="#000" stroke-width="1.40"/>
<text x="296.60" y="568.91" font-size="12.00" text-anchor="end" style="">75</text>
<line x1="301.20" y1="598.48" x2="306.00" y2="598.48" stroke="#000" stroke-width="1.40"/>
<text x="296.60" y="602.48" font-size="12.00" text-anchor="end" style="">50</text>
<line x1="301.20" y1="632.04" x2="306.00" y2="632.04" stroke="#000" stroke-width="1.40"/>
<text x="296.60" y="636.04" font-size="12.00" text-anchor="end" style="">25</text>
<line x1="301.20" y1="665.60" x2="306.00" y2="665.60" stroke="#000" stroke-width="1.40"/>
<text x="296.60" y="669.60" font-size="12.00" text-anchor="end" style="">0</text>
<rect x="315.85" y="663.94" width="9.30" height="1.66" fill="#2c4d80" stroke="#1d3867" stroke-width="0.7"/>
<line x1="320.50" y1="664.89" x2="320.50" y2="659.16" stroke="#000" stroke-width="1.40"/>
<line x1="318.00" y1="659.16" x2="323.00" y2="659.16" stroke="#000" stroke-width="1.50"/>
<line x1="318.00" y1="664.89" x2="323.00" y2="664.89" stroke="#000" stroke-width="1.50"/>
<rect x="327.35" y="567.95" width="8.60" height="97.65" fill="#de8c1c" stroke="#c97a12" stroke-width="0.7"/>
<line x1="331.65" y1="568.90" x2="331.65" y2="556.86" stroke="#000" stroke-width="1.40"/>
<line x1="329.15" y1="556.86" x2="334.15" y2="556.86" stroke="#000" stroke-width="1.50"/>
<line x1="329.15" y1="568.90" x2="334.15" y2="568.90" stroke="#000" stroke-width="1.50"/>
<rect x="338.35" y="577.35" width="8.30" height="88.26" fill="#53245f" stroke="#3f164c" stroke-width="0.7"/>
<line x1="342.50" y1="578.29" x2="342.50" y2="554.17" stroke="#000" stroke-width="1.40"/>
<line x1="340.00" y1="554.17" x2="345.00" y2="554.17" stroke="#000" stroke-width="1.50"/>
<line x1="340.00" y1="578.29" x2="345.00" y2="578.29" stroke="#000" stroke-width="1.50"/>
<rect x="366.65" y="662.33" width="8.90" height="3.27" fill="#2c4d80" stroke="#1d3867" stroke-width="0.7"/>
<line x1="371.10" y1="663.28" x2="371.10" y2="658.35" stroke="#000" stroke-width="1.40"/>
<line x1="368.60" y1="658.35" x2="373.60" y2="658.35" stroke="#000" stroke-width="1.50"/>
<line x1="368.60" y1="663.28" x2="373.60" y2="663.28" stroke="#000" stroke-width="1.50"/>
<rect x="378.55" y="576.54" width="7.90" height="89.06" fill="#de8c1c" stroke="#c97a12" stroke-width="0.7"/>
<line x1="382.50" y1="577.49" x2="382.50" y2="566.25" stroke="#000" stroke-width="1.40"/>
<line x1="380.00" y1="566.25" x2="385.00" y2="566.25" stroke="#000" stroke-width="1.50"/>
<line x1="380.00" y1="577.49" x2="385.00" y2="577.49" stroke="#000" stroke-width="1.50"/>
<rect x="389.15" y="567.95" width="8.60" height="97.65" fill="#53245f" stroke="#3f164c" stroke-width="0.7"/>
<line x1="393.45" y1="568.90" x2="393.45" y2="552.83" stroke="#000" stroke-width="1.40"/>
<line x1="390.95" y1="552.83" x2="395.95" y2="552.83" stroke="#000" stroke-width="1.50"/>
<line x1="390.95" y1="568.90" x2="395.95" y2="568.90" stroke="#000" stroke-width="1.50"/>
<rect x="418.05" y="606.88" width="8.10" height="58.72" fill="#2c4d80" stroke="#1d3867" stroke-width="0.7"/>
<line x1="422.10" y1="607.83" x2="422.10" y2="595.79" stroke="#000" stroke-width="1.40"/>
<line x1="419.60" y1="595.79" x2="424.60" y2="595.79" stroke="#000" stroke-width="1.50"/>
<line x1="419.60" y1="607.83" x2="424.60" y2="607.83" stroke="#000" stroke-width="1.50"/>
<rect x="428.95" y="544.45" width="8.60" height="121.15" fill="#de8c1c" stroke="#c97a12" stroke-width="0.7"/>
<line x1="433.25" y1="545.40" x2="433.25" y2="539.40" stroke="#000" stroke-width="1.40"/>
<line x1="430.75" y1="539.40" x2="435.75" y2="539.40" stroke="#000" stroke-width="1.50"/>
<line x1="430.75" y1="545.40" x2="435.75" y2="545.40" stroke="#000" stroke-width="1.50"/>
<rect x="440.55" y="539.75" width="7.90" height="125.85" fill="#53245f" stroke="#3f164c" stroke-width="0.7"/>
<line x1="444.50" y1="540.70" x2="444.50" y2="535.91" stroke="#000" stroke-width="1.40"/>
<line x1="442.00" y1="535.91" x2="447.00" y2="535.91" stroke="#000" stroke-width="1.50"/>
<line x1="442.00" y1="540.70" x2="447.00" y2="540.70" stroke="#000" stroke-width="1.50"/>
<rect x="468.55" y="561.24" width="8.50" height="104.37" fill="#2c4d80" stroke="#1d3867" stroke-width="0.7"/>
<line x1="472.80" y1="562.18" x2="472.80" y2="543.43" stroke="#000" stroke-width="1.40"/>
<line x1="470.30" y1="543.43" x2="475.30" y2="543.43" stroke="#000" stroke-width="1.50"/>
<line x1="470.30" y1="562.18" x2="475.30" y2="562.18" stroke="#000" stroke-width="1.50"/>
<rect x="480.05" y="534.65" width="8.00" height="130.95" fill="#de8c1c" stroke="#c97a12" stroke-width="0.7"/>
<line x1="484.05" y1="535.60" x2="484.05" y2="532.69" stroke="#000" stroke-width="1.40"/>
<line x1="481.55" y1="532.69" x2="486.55" y2="532.69" stroke="#000" stroke-width="1.50"/>
<line x1="481.55" y1="535.60" x2="486.55" y2="535.60" stroke="#000" stroke-width="1.50"/>
<rect x="491.45" y="538.95" width="8.10" height="126.65" fill="#53245f" stroke="#3f164c" stroke-width="0.7"/>
<line x1="495.50" y1="539.90" x2="495.50" y2="534.57" stroke="#000" stroke-width="1.40"/>
<line x1="493.00" y1="534.57" x2="498.00" y2="534.57" stroke="#000" stroke-width="1.50"/>
<line x1="493.00" y1="539.90" x2="498.00" y2="539.90" stroke="#000" stroke-width="1.50"/>
<line x1="301.20" y1="665.60" x2="508.60" y2="665.60" stroke="#000" stroke-width="1.60"/>
<text x="319.20" y="680.80" font-size="12.40" textLength="24.40" lengthAdjust="spacingAndGlyphs" style="">DN1</text>
<text x="370.20" y="680.80" font-size="12.40" textLength="24.40" lengthAdjust="spacingAndGlyphs" style="">DN2</text>
<text x="421.10" y="680.80" font-size="12.40" textLength="24.40" lengthAdjust="spacingAndGlyphs" style="">DN3</text>
<text x="472.00" y="680.80" font-size="12.40" textLength="24.40" lengthAdjust="spacingAndGlyphs" style="">DN4</text>
<text x="317.30" y="695.20" font-size="12.40" textLength="28.00" lengthAdjust="spacingAndGlyphs" style="">(ETP)</text>
<g transform="translate(267.5,625.0) rotate(-90)">
<text x="0.00" y="0.00" font-size="14.00" textLength="58.20" lengthAdjust="spacingAndGlyphs" style="">EGFP (+) %</text>
</g>
</svg>
</body></html>
